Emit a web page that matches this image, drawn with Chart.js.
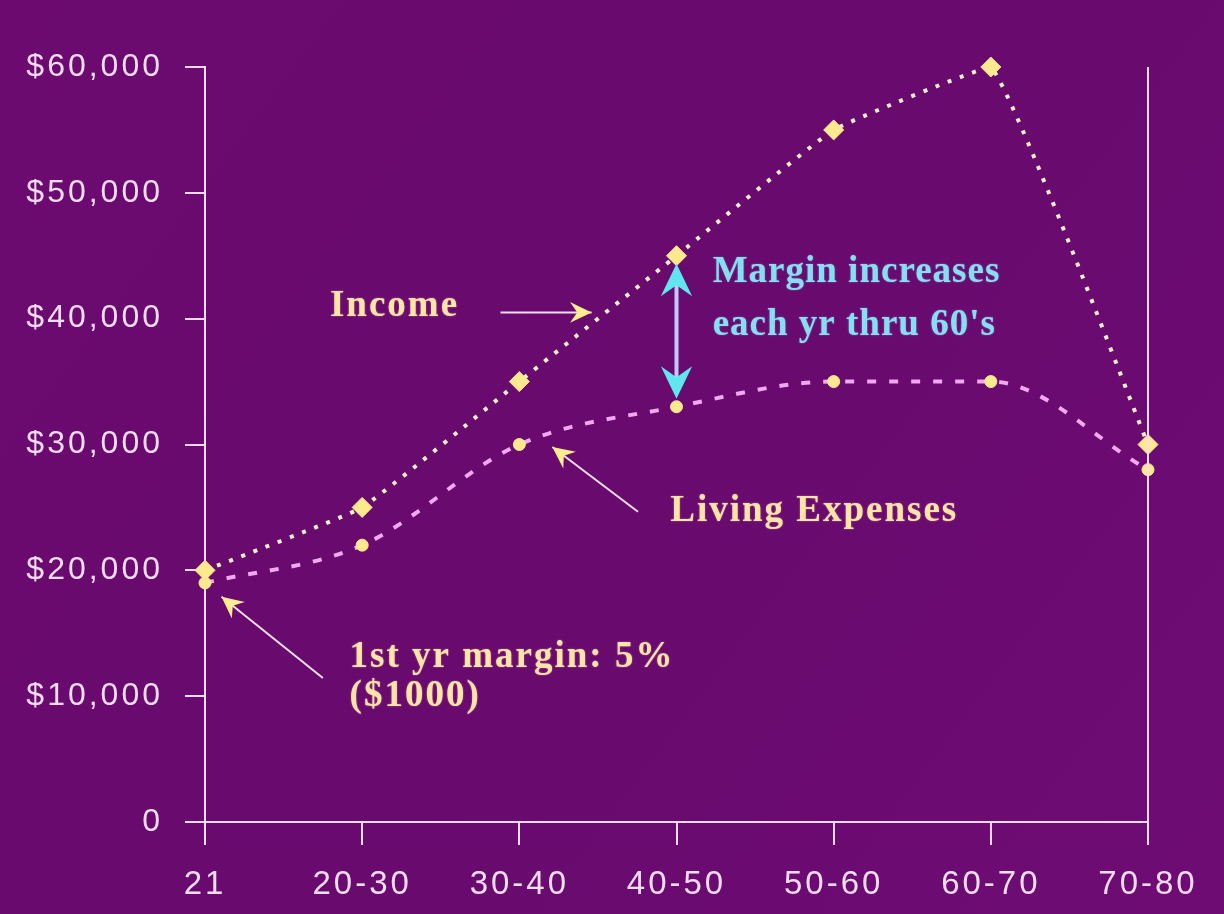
<!DOCTYPE html>
<html>
<head>
<meta charset="utf-8">
<script src="https://cdn.jsdelivr.net/npm/chart.js@4/dist/chart.umd.min.js"></script>
<style>
  html, body { margin: 0; padding: 0; background: #6a0b6f; }
  #wrap { width: 1224px; height: 914px; }
</style>
</head>
<body>
<div id="wrap"><canvas id="myChart" width="1224" height="914"></canvas></div>
<script>
(function () {
var ages = ['21', '20-30', '30-40', '40-50', '50-60', '60-70', '70-80'];
var income = [20000, 25000, 35000, 45000, 55000, 60000, 30000];
var expenses = [19000, 22000, 30000, 33000, 35000, 35000, 28000];
var yTicks = [0, 10000, 20000, 30000, 40000, 50000, 60000];

var axisColor = '#f6dcee';
var cream = '#ffe6a6';
var cyan = '#86dff0';

function money(v) {
  if (v === 0) return '0';
  return '$' + v.toLocaleString('en-US');
}

function arrowHead(ctx, x1, y1, x2, y2, size, color) {
  var a = Math.atan2(y2 - y1, x2 - x1);
  ctx.save();
  ctx.fillStyle = color;
  ctx.beginPath();
  ctx.moveTo(x2, y2);
  ctx.lineTo(x2 - size * Math.cos(a - 0.45), y2 - size * Math.sin(a - 0.45));
  ctx.lineTo(x2 - size * 0.6 * Math.cos(a), y2 - size * 0.6 * Math.sin(a));
  ctx.lineTo(x2 - size * Math.cos(a + 0.45), y2 - size * Math.sin(a + 0.45));
  ctx.closePath();
  ctx.fill();
  ctx.restore();
}

function arrow(ctx, x1, y1, x2, y2, color, headColor) {
  ctx.save();
  ctx.strokeStyle = color;
  ctx.lineWidth = 2;
  ctx.beginPath();
  ctx.moveTo(x1, y1);
  ctx.lineTo(x2, y2);
  ctx.stroke();
  ctx.restore();
  arrowHead(ctx, x1, y1, x2, y2, 24, headColor);
}

var bgPlugin = {
  id: 'bg',
  beforeDraw: function (chart) {
    var ctx = chart.ctx;
    var g = ctx.createLinearGradient(0, 0, chart.width, chart.height);
    g.addColorStop(0, '#6c0a70');
    g.addColorStop(0.5, '#680a6e');
    g.addColorStop(1, '#6e0c74');
    ctx.save();
    ctx.fillStyle = g;
    ctx.fillRect(0, 0, chart.width, chart.height);
    ctx.restore();
    // tick labels in the picture are widely spaced
    ctx.letterSpacing = '3px';
  },
  afterDraw: function (chart) {
    var ctx = chart.ctx;
    var xs = chart.scales.x, ys = chart.scales.y;
    var area = chart.chartArea;
    function X(i) { return xs.getPixelForValue(i); }
    function Y(v) { return ys.getPixelForValue(v); }
    ctx.letterSpacing = '0px';

    // right border line
    ctx.save();
    ctx.strokeStyle = axisColor;
    ctx.lineWidth = 2;
    ctx.beginPath();
    ctx.moveTo(area.right, area.top);
    ctx.lineTo(area.right, area.bottom);
    ctx.stroke();
    ctx.restore();

    ctx.save();
    ctx.textBaseline = 'middle';
    ctx.textAlign = 'left';
    ctx.font = 'bold 37px "Liberation Serif", "Times New Roman", serif';
    ctx.letterSpacing = '2px';
    ctx.shadowColor = 'rgba(255,150,170,0.6)';
    ctx.shadowBlur = 2;

    ctx.fillStyle = cream;
    ctx.fillText('Income', X(0.795), Y(41000));
    ctx.fillText('Living Expenses', X(2.96), Y(24650));
    ctx.fillText('1st yr margin: 5%', X(0.92), Y(13050));
    ctx.fillText('($1000)', X(0.92), Y(9950));

    ctx.fillStyle = cyan;
    ctx.shadowColor = 'rgba(150,200,255,0.5)';
    ctx.letterSpacing = '1px';
    ctx.fillText('Margin increases', X(3.23), Y(43700));
    ctx.fillText('each yr thru 60\'s', X(3.23), Y(39500));
    ctx.restore();

    // pointer arrows
    arrow(ctx, X(1.88), Y(40500), X(2.46), Y(40500), '#f8e0ea', '#ffee90');
    arrow(ctx, X(2.755), Y(24650), X(2.21), Y(29800), '#f8e0ea', '#ffee90');
    arrow(ctx, X(0.75), Y(11450), X(0.105), Y(17900), '#f8e0ea', '#ffee90');

    // margin double arrow
    var mx = X(3), top = Y(45000) + 8, bot = Y(33000) - 8;
    ctx.save();
    ctx.strokeStyle = '#c6c6ff';
    ctx.lineWidth = 4;
    ctx.beginPath();
    ctx.moveTo(mx, top + 20);
    ctx.lineTo(mx, bot - 20);
    ctx.stroke();
    ctx.restore();
    arrowHead(ctx, mx, bot - 30, mx, top, 36, '#5fe6ee');
    arrowHead(ctx, mx, top + 30, mx, bot, 36, '#5fe6ee');
  }
};

var ctx = document.getElementById('myChart');
var myChart = new Chart(ctx, {
  type: 'line',
  data: {
    labels: ages,
    datasets: [{
      label: 'Income',
      data: income,
      clip: false,
      borderColor: '#fff2c4',
      borderWidth: 4,
      borderDash: [4, 9],
      tension: 0.1,
      pointStyle: 'rectRot',
      pointRadius: 10,
      pointBackgroundColor: '#ffe98e',
      pointBorderColor: '#ffe98e',
      pointBorderWidth: 1
    }, {
      label: 'Living Expenses',
      data: expenses,
      clip: false,
      borderColor: '#f2a8ef',
      borderWidth: 4,
      borderDash: [9, 13],
      cubicInterpolationMode: 'monotone',
      pointStyle: 'circle',
      pointRadius: 6,
      pointBackgroundColor: '#ffe98e',
      pointBorderColor: '#ffe98e',
      pointBorderWidth: 1
    }]
  },
  options: {
    responsive: false,
    animation: false,
    layout: { padding: { top: 67, right: 76, left: 0, bottom: 0 } },
    plugins: {
      legend: { display: false },
      tooltip: { enabled: false }
    },
    scales: {
      x: {
        offset: false,
        grid: { drawOnChartArea: false, color: axisColor, lineWidth: 2, tickLength: 23, offset: false },
        border: { color: axisColor, width: 2 },
        ticks: {
          color: '#f4dcf0',
          padding: 20,
          maxRotation: 0,
          autoSkip: false,
          font: { family: '"Liberation Sans", Arial, sans-serif', size: 33 }
        },
        afterFit: function (scale) { scale.height = 92; }
      },
      y: {
        min: 0,
        max: 60000,
        afterBuildTicks: function (scale) {
          scale.ticks = yTicks.map(function (v) { return { value: v }; });
        },
        grid: { drawOnChartArea: false, color: axisColor, lineWidth: 2, tickLength: 20 },
        border: { color: axisColor, width: 2 },
        ticks: {
          color: '#f4dcf0',
          padding: 22,
          callback: function (v) { return money(v); },
          font: { family: '"Liberation Sans", Arial, sans-serif', size: 32 }
        },
        afterFit: function (scale) { scale.width = 205; }
      }
    }
  },
  plugins: [bgPlugin]
});
})();
</script>
</body>
</html>
